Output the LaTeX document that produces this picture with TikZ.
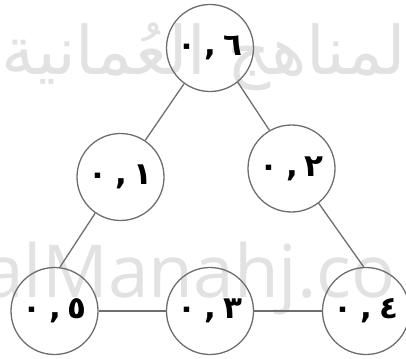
\documentclass[tikz,border=0pt]{standalone}
\usepackage{fontspec}
\TeXXeTstate=1
\newfontfamily\arabicfont[Script=Arabic]{DejaVu Sans}
\newfontfamily\wmlatin{Open Sans}
\definecolor{lineg}{RGB}{110,110,110}
\definecolor{wmgray}{RGB}{226,226,226}
\newcommand\numlab[1]{{\arabicfont\bfseries\fontsize{31pt}{31pt}\selectfont ٠\hspace{8pt},\hspace{7pt}#1}}
\tikzset{
  numnode/.style={circle, draw=lineg, line width=1.3pt, minimum size=87pt, inner sep=0pt, text=black},
  conn/.style={draw=lineg, line width=1.3pt},
  wm/.style={text=wmgray, inner sep=0pt}
}
\begin{document}
\begin{tikzpicture}[x=1pt,y=-1pt]
\useasboundingbox (0,0) rectangle (406,358);
% watermarks
\node[wm, anchor=base] (wmar) at (213,75) {\arabicfont\fontsize{67pt}{67pt}\selectfont\beginR المناهج العُمانية\endR};
\node[wm, anchor=base west] (wmla) at (-17,297) {\wmlatin\fontsize{73pt}{73pt}\selectfont alManahj.co};
% nodes
\node[numnode] (A) at (210,48) {\numlab{٦}};
\node[numnode] (B) at (120.5,177) {\numlab{١}};
\node[numnode] (C) at (291.5,168.5) {\numlab{٢}};
\node[numnode] (D) at (54.5,311) {\numlab{٥}};
\node[numnode] (E) at (210,311) {\numlab{٣}};
\node[numnode] (F) at (366,311) {\numlab{٤}};
% connectors
\draw[conn] (A.-126) -- (B.56);
\draw[conn] (A.-51) -- (C.120);
\draw[conn] (B.-125) -- (D.83);
\draw[conn] (C.-52) -- (F.93);
\draw[conn] (D.east) -- (E.west);
\draw[conn] (E.east) -- (F.west);
\end{tikzpicture}
\end{document}
